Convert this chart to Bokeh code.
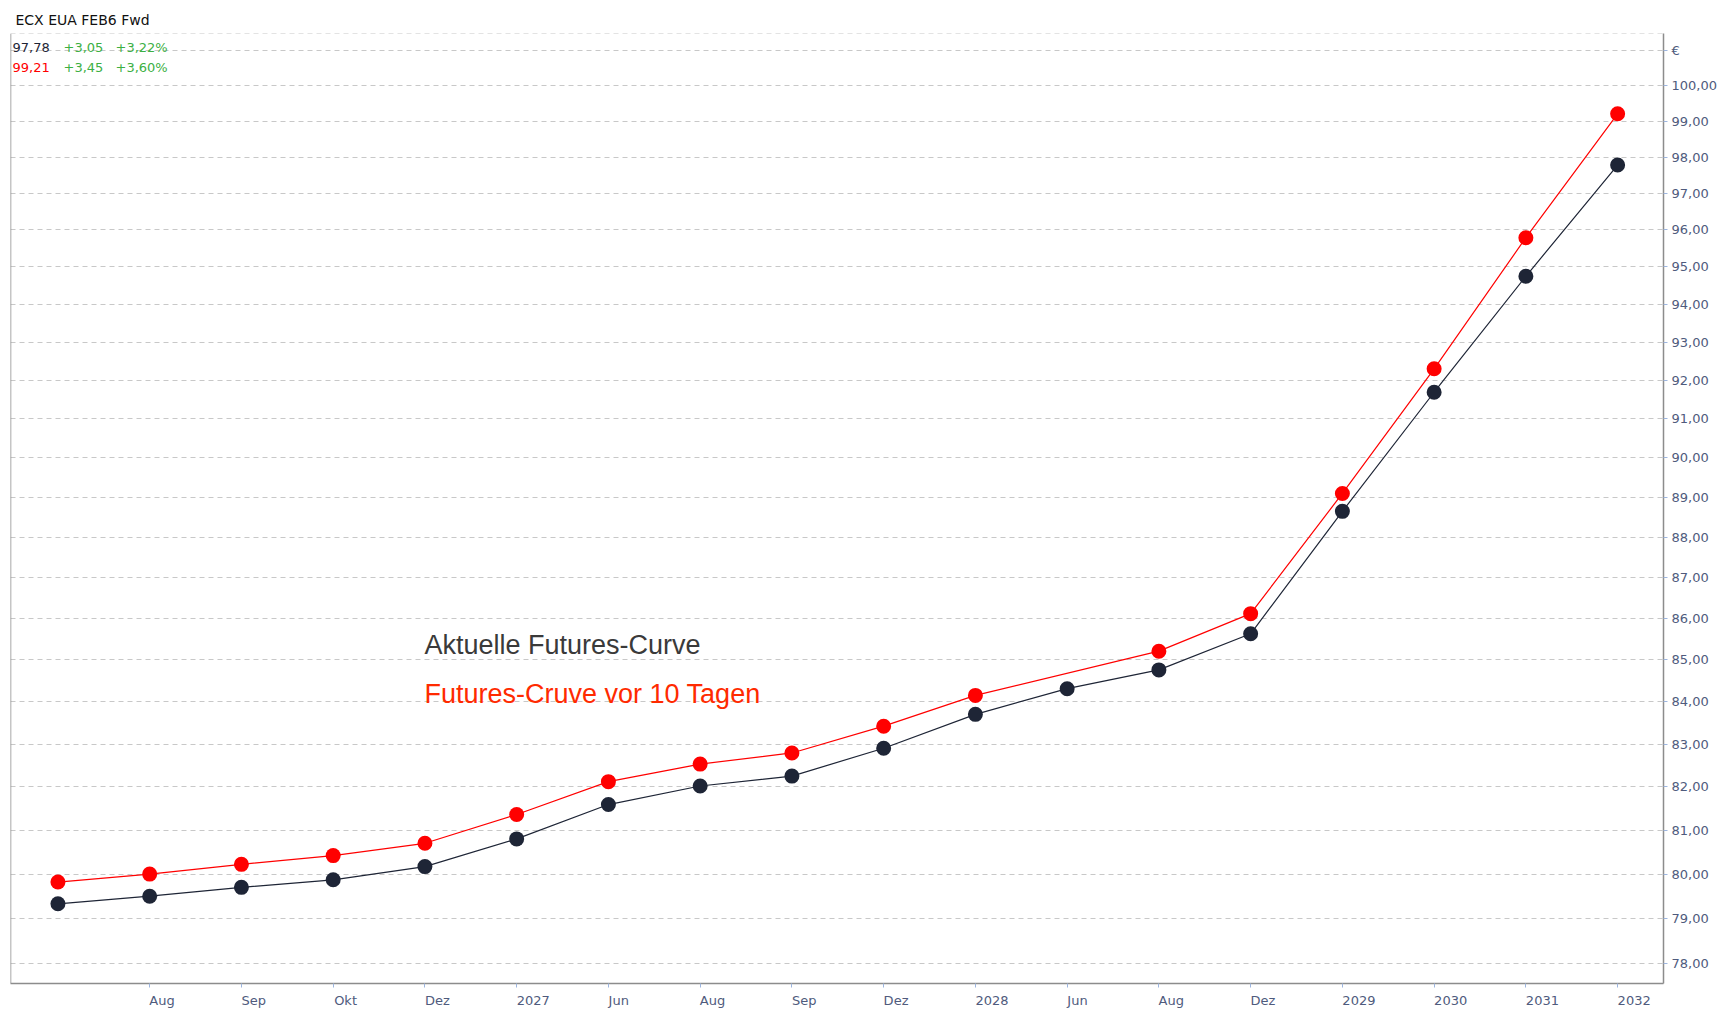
from bokeh.plotting import figure
from bokeh.models import FixedTicker, Label, Span, ColumnDataSource, Range1d
from bokeh.embed import file_html
from bokeh.resources import INLINE

# ---- data ----
x_labels = ["", "Aug", "Sep", "Okt", "Dez", "2027", "Jun", "Aug", "Sep", "Dez",
            "2028", "Jun", "Aug", "Dez", "2029", "2030", "2031", "2032"]
current = [79.33, 79.50, 79.70, 79.87, 80.17, 80.80, 81.59, 82.02, 82.25, 82.90,
           83.70, 84.31, 84.76, 85.63, 88.65, 91.69, 94.75, 97.78]
previous = [79.82, 80.00, 80.22, 80.42, 80.70, 81.36, 82.12, 82.53, 82.79, 83.42,
            84.15, None, 85.21, 86.12, 89.10, 92.30, 95.79, 99.21]
y_ticks = list(range(78, 102))
title_text = "ECX EUA FEB6 Fwd"
info_rows = [("97,78", "+3,05", "+3,22%"), ("99,21", "+3,45", "+3,60%")]
legend_texts = ["Aktuelle Futures-Curve", "Futures-Cruve vor 10 Tagen"]

idx = list(range(len(x_labels)))
cur_src = ColumnDataSource(dict(x=idx, y=current))
px = [i for i, v in zip(idx, previous) if v is not None]
py = [v for v in previous if v is not None]
prev_src = ColumnDataSource(dict(x=px, y=py))

DARK = "#1e2536"
RED = "#ff0000"
FONT = "DejaVu Sans"

# DejaVu Sans advance widths (font units / 2048) used to left-align centred tick labels
_W = {"A": 1401, "u": 1298, "g": 1300, "S": 1300, "e": 1260, "p": 1300, "O": 1612,
      "k": 1186, "t": 803, "D": 1577, "z": 1075, "J": 604, "n": 1298}
def left_pad(s):
    w = sum(_W.get(c, 1303) for c in s)
    n = int(round(w / 651.0))
    return "\u00a0" * n + s

Y0, Y1 = 77.56, 101.49
p = figure(width=1731, height=1010, y_axis_type="log", y_axis_location="right",
           x_range=Range1d(-0.517, 17.5), y_range=Range1d(Y0, Y1),
           output_backend="svg", toolbar_location=None,
           min_border_left=10, min_border_right=68, min_border_top=33, min_border_bottom=27)
p.frame_width = 1653
p.frame_height = 950
p.background_fill_color = "white"
p.border_fill_color = "white"
p.outline_line_color = None

p.title.text = title_text
p.title.align = "left"
p.title.offset = 5
p.title.standoff = 11
p.title.text_font = FONT
p.title.text_font_size = "14px"
p.title.text_font_style = "normal"
p.title.text_color = "#111111"

# grid
p.xgrid.visible = False
p.ygrid.ticker = FixedTicker(ticks=y_ticks)
p.ygrid.grid_line_color = "#c8c8c8"
p.ygrid.grid_line_dash = "5 4"
p.ygrid.grid_line_width = 1

# y axis
ya = p.yaxis[0]
ya.ticker = FixedTicker(ticks=y_ticks)
ya.major_label_overrides = {t: ("€" if t == 101 else f"{t},00") for t in y_ticks}
ya.minor_tick_line_color = None
ya.major_tick_in = 0
ya.major_tick_out = 4
ya.major_tick_line_color = "#9db5de"
ya.axis_line_color = "#8c8c8c"
ya.axis_line_width = 1.5
ya.major_label_text_font = FONT
ya.major_label_text_font_size = "13px"
ya.major_label_text_color = "#4f5b7d"
ya.major_label_standoff = 4

# x axis
xa = p.xaxis[0]
xa.ticker = FixedTicker(ticks=idx[1:])
xa.major_label_overrides = {i: left_pad(x_labels[i]) for i in idx}
xa.minor_tick_line_color = None
xa.major_tick_in = 0
xa.major_tick_out = 4
xa.major_tick_line_color = "#9db5de"
xa.axis_line_color = "#8c8c8c"
xa.axis_line_width = 1.5
xa.major_label_text_font = FONT
xa.major_label_text_font_size = "13px"
xa.major_label_text_color = "#4f5b7d"
xa.major_label_standoff = 5

# borders
p.add_layout(Span(location=-0.517, dimension="height", line_color="#8c8c8c", line_width=1.5))
p.add_layout(Span(location=Y1, dimension="width", line_color="#c8c8c8", line_dash="5 4", line_width=1))

# series
p.line("x", "y", source=prev_src, line_color=RED, line_width=1.2)
p.scatter("x", "y", source=prev_src, size=15, fill_color=RED, line_color=None)
p.line("x", "y", source=cur_src, line_color=DARK, line_width=1.2)
p.scatter("x", "y", source=cur_src, size=15, fill_color=DARK, line_color=None)

# info labels (top left)
row_colors = [DARK, RED]
for r, (row, c0) in enumerate(zip(info_rows, row_colors)):
    yy = 936 - 20 * r
    for j, (txt, xx) in enumerate(zip(row, [2, 53, 105])):
        p.add_layout(Label(x=xx, y=yy, x_units="screen", y_units="screen", text=txt,
                           text_font=FONT, text_font_size="13px",
                           text_color=(c0 if j == 0 else "#3cb043"),
                           text_baseline="middle"))

# legend-like annotations
for txt, yy, col in zip(legend_texts, [339, 290], ["#3a3a3a", "#ff2a00"]):
    p.add_layout(Label(x=414, y=yy, x_units="screen", y_units="screen", text=txt,
                       text_font="Liberation Sans", text_font_size="27px", text_color=col,
                       text_baseline="middle"))

open("out.html", "w").write(file_html(p, INLINE))
